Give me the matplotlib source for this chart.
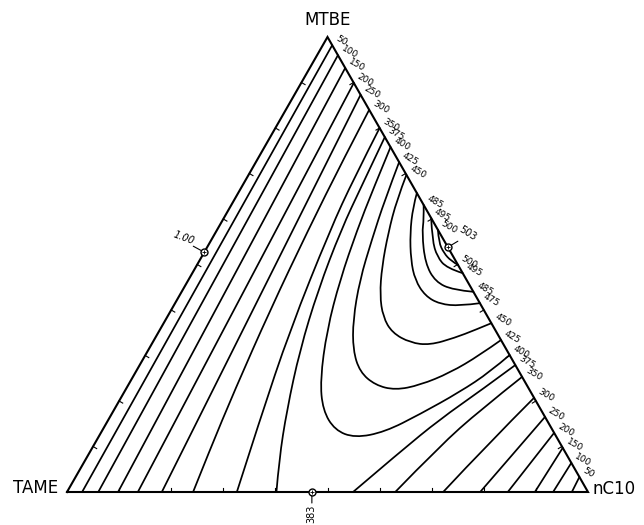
import numpy as np
import matplotlib
matplotlib.use('Agg')
import matplotlib.pyplot as plt
from matplotlib.path import Path
from matplotlib.patches import PathPatch

S = np.sqrt(3) / 2

# contour lines, points are (x_nC10, x_MTBE) mole fractions
# lines that start on the MTBE-nC10 edge and end on the TAME-nC10 edge (left part)
upper_vals = [50, 100, 150, 200, 250, 300, 350, 375]
upper_lines = [
    [(0.018, 0.982), (0.029, 0.0)],
    [(0.040, 0.960), (0.060, 0.0)],
    [(0.068, 0.932), (0.098, 0.0)],
    [(0.101, 0.899), (0.136, 0.0)],
    [(0.127, 0.873), (0.182, 0.0)],
    [(0.160, 0.840), (0.165, 0.730), (0.175, 0.576), (0.190, 0.400), (0.210, 0.224),
     (0.228, 0.092), (0.242, 0.0)],
    [(0.200, 0.800), (0.206, 0.690), (0.217, 0.576), (0.250, 0.356), (0.291, 0.158),
     (0.326, 0.0)],
    [(0.220, 0.780), (0.229, 0.675), (0.238, 0.576), (0.260, 0.444), (0.291, 0.312),
     (0.332, 0.180), (0.372, 0.070), (0.402, 0.0)],
]

# U shaped lines, both ends on the MTBE-nC10 edge
u_vals = [400, 425, 450]
u_lines = [
    [(0.242, 0.758), (0.255, 0.664), (0.269, 0.576), (0.291, 0.466), (0.321, 0.356),
     (0.363, 0.246), (0.401, 0.180), (0.446, 0.136), (0.493, 0.119), (0.544, 0.132),
     (0.592, 0.171), (0.644, 0.220), (0.680, 0.264), (0.699, 0.301)],
    [(0.275, 0.725), (0.289, 0.642), (0.308, 0.554), (0.329, 0.466), (0.360, 0.378),
     (0.393, 0.312), (0.430, 0.264), (0.474, 0.235), (0.518, 0.224), (0.560, 0.235),
     (0.604, 0.262), (0.642, 0.301), (0.666, 0.334)],
    [(0.303, 0.697), (0.312, 0.642), (0.332, 0.569), (0.357, 0.495), (0.384, 0.433),
     (0.414, 0.385), (0.449, 0.350), (0.495, 0.328), (0.535, 0.323), (0.575, 0.339),
     (0.605, 0.356), (0.629, 0.371)],
]

# small closed loops around the maximum on the edge
loop_vals = [475, 485, 495, 500]
loop_lines = [
    [(0.343, 0.657), (0.351, 0.626), (0.374, 0.569), (0.405, 0.510), (0.435, 0.466),
     (0.472, 0.431), (0.509, 0.413), (0.550, 0.409), (0.585, 0.415)],
    [(0.369, 0.631), (0.385, 0.600), (0.397, 0.569), (0.436, 0.503), (0.476, 0.462),
     (0.519, 0.444), (0.560, 0.440)],
    [(0.398, 0.602), (0.424, 0.554), (0.452, 0.517), (0.483, 0.492), (0.519, 0.481)],
    [(0.424, 0.576), (0.439, 0.549), (0.461, 0.525), (0.483, 0.508), (0.501, 0.499)],
]
# upper ends that carry a label (475 has none there)
loop_top_labels = ['', '485', '495', '500']

# lines near the nC10 corner
lower_vals = [375, 350, 300, 250, 200, 150, 100, 50]
lower_lines = [
    [(0.721, 0.279), (0.682, 0.222), (0.636, 0.160), (0.595, 0.088), (0.549, 0.0)],
    [(0.747, 0.253), (0.703, 0.180), (0.665, 0.101), (0.630, 0.0)],
    [(0.793, 0.207), (0.756, 0.108), (0.722, 0.0)],
    [(0.835, 0.165), (0.815, 0.086), (0.793, 0.0)],
    [(0.870, 0.130), (0.846, 0.0)],
    [(0.903, 0.097), (0.898, 0.0)],
    [(0.936, 0.064), (0.933, 0.0)],
    [(0.967, 0.033), (0.969, 0.0)],
]

# marked points
mark_pts = [(0.0, 0.527), (0.470, 0.0), (0.462, 0.538)]
mark_txt = ['1.00', '383', '503']


def xy(pts):
    a = np.array(pts, dtype=float)
    return a[:, 0] + a[:, 1] / 2, a[:, 1] * S


def smooth_path(x, y):
    # quadratic bezier through midpoints, read points used as control points
    p = np.column_stack([x, y])
    if len(p) < 3:
        return Path(p)
    verts = [p[0]]
    codes = [Path.MOVETO]
    for i in range(1, len(p) - 1):
        end = p[-1] if i == len(p) - 2 else (p[i] + p[i + 1]) / 2
        verts += [p[i], end]
        codes += [Path.CURVE3, Path.CURVE3]
    return Path(verts, codes)


fig = plt.figure(figsize=(6.44, 5.25), dpi=100)
ax = fig.add_axes([67 / 644, 33 / 525, 521 / 644, 455 / 525])
ax.set_xlim(0, 1)
ax.set_ylim(0, S)
ax.axis('off')

# triangle
ax.plot([0, 1, 0.5, 0], [0, 0, S, 0], color='black', lw=1.5, clip_on=False,
        solid_joinstyle='miter')

# ticks every 10 %
tl = 0.008
for f in np.arange(0.1, 0.95, 0.1):
    ax.plot([f, f], [0, tl], color='black', lw=0.8)
    x0, y0 = f / 2, f * S
    ax.plot([x0, x0 + tl * S], [y0, y0 - tl / 2], color='black', lw=0.8)
    x1, y1 = 1 - f / 2, f * S
    ax.plot([x1, x1 - tl * S], [y1, y1 - tl / 2], color='black', lw=0.8)

for line in upper_lines + u_lines + loop_lines + lower_lines:
    x, y = xy(line)
    ax.add_patch(PathPatch(smooth_path(x, y), fill=False, edgecolor='black', lw=1.25,
                           joinstyle='round', capstyle='round'))

# labels along the MTBE-nC10 edge
lab = dict(fontsize=6.5, rotation=-30, rotation_mode='anchor', ha='left', va='center',
           textcoords='offset pixels', xytext=(4, 7))
top_txt = [str(v) for v in upper_vals + u_vals] + loop_top_labels
for t, line in zip(top_txt, upper_lines + u_lines + loop_lines):
    x, y = xy(line[:1])
    ax.annotate(t, (x[0], y[0]), **lab)
for v, line in zip(loop_vals + u_vals, loop_lines + u_lines):
    x, y = xy(line[-1:])
    ax.annotate(str(v), (x[0], y[0]), **lab)
for v, line in zip(lower_vals, lower_lines):
    x, y = xy(line[:1])
    ax.annotate(str(v), (x[0], y[0]), **lab)

# marked points with leaders
mx, my = xy(mark_pts)
ax.plot(mx, my, 'o', ms=5, mfc='white', mec='black', mew=1.0, clip_on=False, zorder=5)
ax.plot(mx, my, '+', ms=3, color='black', mew=0.6, clip_on=False, zorder=6)
offs = [(-20, 14), (-1, -22), (20, 14)]
rots = [-20, 90, -32]
lead = [(-11, 6), (0, -11), (10, 6)]
for i in range(3):
    ax.annotate('', (mx[i], my[i]), xytext=lead[i], textcoords='offset pixels',
                arrowprops=dict(arrowstyle='-', lw=0.8, shrinkA=0, shrinkB=2.5))
    ax.annotate(mark_txt[i], (mx[i], my[i]), xytext=offs[i], textcoords='offset pixels',
                fontsize=7, rotation=rots[i], ha='center', va='center',
                fontstyle='italic' if i == 0 else 'normal')

# corner names
ax.annotate('MTBE', (0.5, S), xytext=(0, 17), textcoords='offset pixels',
            ha='center', va='center', fontsize=12)
ax.annotate('TAME', (0, 0), xytext=(-9, 4), textcoords='offset pixels',
            ha='right', va='center', fontsize=12)
ax.annotate('nC10', (1, 0), xytext=(4, 3), textcoords='offset pixels',
            ha='left', va='center', fontsize=12)

fig.savefig('out.png', dpi=100)
